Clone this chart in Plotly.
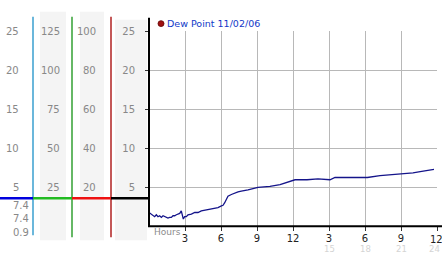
import plotly.graph_objects as go

W, H = 442, 253

# ---- data ----
hours = [0.0, 0.19, 0.47, 0.61, 0.75, 0.89, 1.03, 1.17, 1.31, 1.44, 1.58, 1.72, 1.86, 2.0, 2.14, 2.28,
         2.42, 2.56, 2.69, 2.78, 2.86, 2.97, 3.11, 3.25, 3.53, 3.81, 4.08, 4.36, 4.64, 4.92, 5.19,
         5.47, 5.75, 6.03, 6.17, 6.31, 6.44, 6.58, 6.86, 7.14, 7.42, 7.69, 7.97, 8.25, 9.08, 10.08,
         10.92, 11.5, 12.17, 13.17, 14.08, 15.08, 15.5, 16.5, 17.5, 18.2, 19.25, 20.2, 21.2, 22.0,
         22.6, 23.2, 23.75]
dew_point = [1.77, 1.56, 1.23, 1.48, 1.23, 1.35, 1.14, 1.35, 1.23, 1.14, 1.06, 1.14, 1.14, 1.35, 1.35,
             1.48, 1.56, 1.65, 1.98, 1.56, 0.93, 1.23, 1.23, 1.48, 1.56, 1.77, 1.77, 1.98, 2.06, 2.19,
             2.19, 2.32, 2.40, 2.61, 2.69, 3.03, 3.45, 3.87, 4.08, 4.29, 4.41, 4.50, 4.58, 4.66, 5.00,
             5.12, 5.34, 5.65, 5.97, 5.97, 6.09, 5.97, 6.26, 6.26, 6.26, 6.26, 6.50, 6.60, 6.72, 6.85,
             7.00, 7.12, 7.30]

x_tickvals = [3, 6, 9, 12, 15, 18, 21, 24]
x_ticktext = ["3", "6", "9", "12", "3", "6", "9", "12"]
x_sub_vals = [15, 18, 21, 24]
x_sub_text = ["15", "18", "21", "24"]

y_tickvals = [5, 10, 15, 20, 25]
col0_labels = ["5", "10", "15", "20", "25"]
col1_labels = ["25", "50", "75", "100", "125"]
col2_labels = ["20", "40", "60", "80", "100"]
current_values = ["7.4", "7.4", "0.9"]
series_name = "Dew Point 11/02/06"
marker_level = 3.6

FONT = "DejaVu Sans"


def px(x):
    return x / W


def py(y):
    return 1 - y / H


fig = go.Figure()
fig.add_trace(go.Scatter(x=hours, y=dew_point, mode="lines",
                         line=dict(color="#14148a", width=1.3), showlegend=False,
                         hoverinfo="skip"))

shapes = []
# shaded columns
for x0, y0, x1, y1 in [(40, 7, 66, 240), (80, 7, 104, 240), (115, 15, 147, 240)]:
    shapes.append(dict(type="rect", xref="paper", yref="paper", x0=px(x0), x1=px(x1),
                       y0=py(y1), y1=py(y0), fillcolor="#f4f4f4", line=dict(width=0),
                       layer="below"))
# coloured vertical lines
for x, y1, c in [(33, 235, "#3a9fcf"), (72, 237, "#33a033"), (111, 237, "#b02020")]:
    shapes.append(dict(type="line", xref="paper", yref="paper", x0=px(x), x1=px(x),
                       y0=py(12), y1=py(y1), line=dict(color=c, width=1.5)))
# coloured horizontal segments
for x0, x1, c in [(0, 33, "#0000dd"), (33, 72, "#22bb22"), (72, 111, "#ee1111"), (111, 149, "#000000")]:
    shapes.append(dict(type="line", xref="paper", yref="y", x0=px(x0), x1=px(x1),
                       y0=marker_level, y1=marker_level, line=dict(color=c, width=2.5)))
# main axis lines
shapes.append(dict(type="line", xref="paper", yref="paper", x0=px(149), x1=px(149),
                   y0=py(13), y1=py(226), line=dict(color="#000", width=2)))
shapes.append(dict(type="line", xref="paper", yref="paper", x0=px(148), x1=px(442),
                   y0=py(225.6), y1=py(225.6), line=dict(color="#000", width=2)))
# legend dot
shapes.append(dict(type="circle", xref="paper", yref="paper", x0=px(158), x1=px(164),
                   y0=py(22), y1=py(16), fillcolor="#a01010", line=dict(color="#600000", width=0.8)))

ann = []
for v, a, b, c in zip(y_tickvals, col0_labels, col1_labels, col2_labels):
    for xr, t in [(21, a), (62, b), (98, c)]:
        ann.append(dict(x=px(xr), y=v, xref="paper", yref="y", text=t, showarrow=False,
                        xanchor="right", yanchor="middle",
                        font=dict(family=FONT, size=10, color="#888")))
for yy, t in zip([205, 218, 232], current_values):
    ann.append(dict(x=px(11), y=py(yy), xref="paper", yref="paper", text=t, showarrow=False,
                    xanchor="left", yanchor="middle", font=dict(family=FONT, size=10, color="#888")))
for v, t in zip(x_sub_vals, x_sub_text):
    ann.append(dict(x=v, y=py(249), xref="x", yref="paper", text=t, showarrow=False,
                    xanchor="center", yanchor="middle", font=dict(family=FONT, size=8.5, color="#d4d4d4"),
                    xshift=(-3 if v == x_sub_vals[-1] else 0)))
# last hour label drawn as annotation so it stays inside the page
ann.append(dict(x=x_tickvals[-1], y=py(239), xref="x", yref="paper", text=x_ticktext[-1],
                showarrow=False, xanchor="center", yanchor="middle", xshift=-1,
                font=dict(family=FONT, size=10, color="#222")))
ann.append(dict(x=px(152), y=py(232), xref="paper", yref="paper", text="Hours", showarrow=False,
                xanchor="left", yanchor="middle", font=dict(family=FONT, size=9, color="#8c8c8c")))
ann.append(dict(x=px(165), y=py(19), xref="paper", yref="paper", text=series_name, showarrow=False,
                xanchor="left", yanchor="middle", font=dict(family=FONT, size=9.5, color="#1238c8")))

fig.update_layout(
    width=W, height=H, margin=dict(l=0, r=0, t=0, b=0),
    paper_bgcolor="white", plot_bgcolor="white", showlegend=False,
    shapes=shapes, annotations=ann,
    xaxis=dict(domain=[px(149), px(437)], range=[0, 24], tickvals=x_tickvals,
               ticktext=x_ticktext[:-1] + [""],
               showgrid=True, gridcolor="#b8b8b8", gridwidth=1, zeroline=False, showline=False,
               ticks="outside", ticklen=4, tickcolor="#333", tickwidth=1,
               ticklabelstandoff=-1,
               tickfont=dict(family=FONT, size=10, color="#222"), fixedrange=True),
    yaxis=dict(domain=[py(225.75), py(26.2)], range=[0, 25.1], tickvals=y_tickvals,
               showgrid=True, gridcolor="#b8b8b8", gridwidth=1, zeroline=False, showline=False,
               ticks="outside", ticklen=3, tickcolor="#333", tickwidth=1, ticklabelstandoff=8,
               tickfont=dict(family=FONT, size=10, color="#888"), fixedrange=True),
)

fig.write_html("out.html")
